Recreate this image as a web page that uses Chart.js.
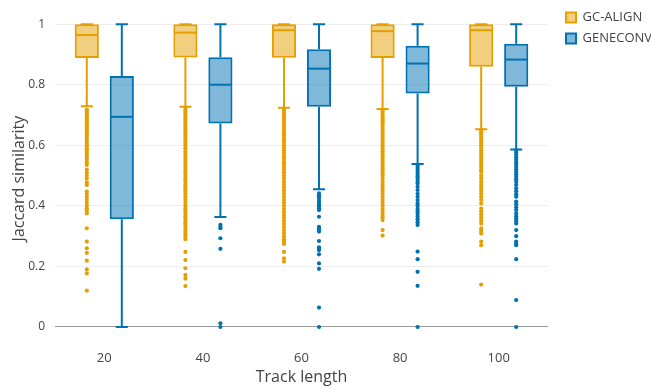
<!DOCTYPE html>
<html>
<head>
<meta charset="utf-8">
<script src="https://cdn.jsdelivr.net/npm/chart.js@4.4.1/dist/chart.umd.min.js"></script>
<style>
  html, body { margin: 0; padding: 0; background: #fff; }
  #wrap { width: 651px; height: 387px; }
</style>
</head>
<body>
<div id="wrap"><canvas id="boxCanvas" width="651" height="387"></canvas></div>
<script>
// Données
const categories = ["20", "40", "60", "80", "100"];
const yTicks = [0, 0.2, 0.4, 0.6, 0.8, 1];

// GC-ALIGN
const gcQ1 = [0.888, 0.89, 0.889, 0.888, 0.859];
const gcMed = [0.964, 0.972, 0.98, 0.977, 0.98];
const gcQ3 = [1, 1, 1, 1, 1];
const gcLo = [0.729, 0.727, 0.724, 0.72, 0.653];
const gcHi = [1, 1, 1, 1, 1];
const gcOut = [
  [0.718, 0.712, 0.706, 0.7, 0.694, 0.688, 0.682, 0.676, 0.668, 0.662, 0.655, 0.648, 0.642, 0.636, 0.628, 0.62, 0.612, 0.604, 0.598, 0.59, 0.584, 0.576, 0.568, 0.56, 0.552, 0.544, 0.535, 0.52, 0.51, 0.5, 0.49, 0.478, 0.469, 0.447, 0.44, 0.43, 0.42, 0.41, 0.4, 0.392, 0.384, 0.375, 0.326, 0.282, 0.26, 0.245, 0.219, 0.19, 0.177, 0.12],
  [0.72, 0.714, 0.708, 0.7, 0.692, 0.685, 0.678, 0.67, 0.662, 0.655, 0.648, 0.64, 0.632, 0.625, 0.618, 0.61, 0.6, 0.59, 0.58, 0.572, 0.565, 0.556, 0.548, 0.54, 0.53, 0.52, 0.512, 0.505, 0.496, 0.488, 0.48, 0.47, 0.462, 0.455, 0.447, 0.44, 0.43, 0.42, 0.41, 0.4, 0.392, 0.384, 0.375, 0.366, 0.358, 0.35, 0.342, 0.334, 0.325, 0.316, 0.308, 0.3, 0.29, 0.248, 0.221, 0.194, 0.172, 0.16, 0.135],
  [0.72, 0.713, 0.706, 0.699, 0.692, 0.685, 0.678, 0.67, 0.662, 0.655, 0.647, 0.64, 0.632, 0.624, 0.616, 0.608, 0.6, 0.592, 0.584, 0.576, 0.568, 0.56, 0.552, 0.544, 0.536, 0.528, 0.52, 0.51, 0.5, 0.49, 0.48, 0.47, 0.46, 0.45, 0.44, 0.43, 0.42, 0.41, 0.4, 0.39, 0.38, 0.37, 0.36, 0.35, 0.34, 0.33, 0.32, 0.31, 0.3, 0.29, 0.282, 0.274, 0.248, 0.227, 0.216],
  [0.716, 0.71, 0.703, 0.696, 0.689, 0.682, 0.675, 0.668, 0.66, 0.652, 0.644, 0.636, 0.628, 0.62, 0.612, 0.604, 0.596, 0.588, 0.58, 0.572, 0.564, 0.556, 0.548, 0.54, 0.532, 0.524, 0.516, 0.508, 0.5, 0.49, 0.48, 0.47, 0.46, 0.45, 0.44, 0.43, 0.42, 0.41, 0.4, 0.39, 0.38, 0.37, 0.362, 0.353, 0.32, 0.302],
  [0.65, 0.643, 0.636, 0.629, 0.622, 0.615, 0.608, 0.6, 0.592, 0.584, 0.576, 0.568, 0.56, 0.552, 0.544, 0.536, 0.528, 0.52, 0.512, 0.5, 0.49, 0.48, 0.47, 0.46, 0.45, 0.44, 0.43, 0.42, 0.408, 0.391, 0.382, 0.372, 0.362, 0.352, 0.342, 0.326, 0.318, 0.309, 0.282, 0.27, 0.14]
];

// GENECONV
const geQ1 = [0.356, 0.672, 0.727, 0.771, 0.793];
const geMed = [0.694, 0.8, 0.853, 0.87, 0.883];
const geQ3 = [0.829, 0.891, 0.917, 0.929, 0.935];
const geLo = [0, 0.363, 0.455, 0.538, 0.586];
const geHi = [1, 1, 1, 1, 1];
const geOut = [
  [],
  [0.337, 0.33, 0.326, 0.293, 0.258, 0.012, 0],
  [0.441, 0.435, 0.428, 0.42, 0.413, 0.405, 0.398, 0.392, 0.386, 0.364, 0.331, 0.325, 0.32, 0.315, 0.284, 0.263, 0.258, 0.254, 0.24, 0.21, 0.192, 0.064, 0],
  [0.535, 0.528, 0.52, 0.512, 0.505, 0.498, 0.49, 0.482, 0.474, 0.463, 0.452, 0.44, 0.43, 0.419, 0.408, 0.4, 0.39, 0.382, 0.374, 0.365, 0.356, 0.346, 0.337, 0.249, 0.224, 0.182, 0.136, 0],
  [0.584, 0.576, 0.568, 0.56, 0.552, 0.544, 0.536, 0.528, 0.52, 0.512, 0.504, 0.496, 0.488, 0.48, 0.469, 0.458, 0.448, 0.438, 0.43, 0.414, 0.405, 0.395, 0.386, 0.375, 0.366, 0.358, 0.35, 0.342, 0.32, 0.3, 0.282, 0.275, 0.27, 0.224, 0.089, 0]
];

const series = [
  { label: "GC-ALIGN", line: "rgb(230,159,0)", fill: "rgba(230,159,0,0.5)",
    q1: gcQ1, med: gcMed, q3: gcQ3, lo: gcLo, hi: gcHi, out: gcOut },
  { label: "GENECONV", line: "rgb(0,114,178)", fill: "rgba(0,114,178,0.5)",
    q1: geQ1, med: geMed, q3: geQ3, lo: geLo, hi: geHi, out: geOut },
];

// moustaches, médianes et points isolés
const boxParts = {
  id: "boxParts",
  afterLayout(chart) {
    // décaler la légende vers la droite, comme sur l'original
    chart.legend.left += 10;
    chart.legend.right += 10;
  },
  beforeDatasetsDraw(chart) {
    const { ctx } = chart;
    const y = chart.scales.y;
    series.forEach((s, i) => {
      chart.getDatasetMeta(i).data.forEach((bar, j) => {
        const x = bar.x;
        const half = bar.width / 4;
        ctx.save();
        ctx.strokeStyle = s.line;
        ctx.lineWidth = 2;
        ctx.beginPath();
        ctx.moveTo(x, y.getPixelForValue(s.q3[j]));
        ctx.lineTo(x, y.getPixelForValue(s.hi[j]));
        ctx.moveTo(x, y.getPixelForValue(s.q1[j]));
        ctx.lineTo(x, y.getPixelForValue(s.lo[j]));
        ctx.moveTo(x - half, y.getPixelForValue(s.hi[j]));
        ctx.lineTo(x + half, y.getPixelForValue(s.hi[j]));
        ctx.moveTo(x - half, y.getPixelForValue(s.lo[j]));
        ctx.lineTo(x + half, y.getPixelForValue(s.lo[j]));
        ctx.stroke();
        ctx.restore();
      });
    });
  },
  afterDatasetsDraw(chart) {
    const { ctx } = chart;
    const y = chart.scales.y;
    series.forEach((s, i) => {
      chart.getDatasetMeta(i).data.forEach((bar, j) => {
        const x = bar.x;
        const w = bar.width;
        ctx.save();
        ctx.strokeStyle = s.line;
        ctx.lineWidth = 2;
        ctx.beginPath();
        ctx.moveTo(x - w / 2 + 1, y.getPixelForValue(s.med[j]));
        ctx.lineTo(x + w / 2 - 1, y.getPixelForValue(s.med[j]));
        ctx.stroke();
        ctx.fillStyle = s.line;
        s.out[j].forEach((v) => {
          ctx.beginPath();
          ctx.arc(x, y.getPixelForValue(v), 2.1, 0, Math.PI * 2);
          ctx.fill();
        });
        ctx.restore();
      });
    });
  },
};

const boxChart = new Chart(document.getElementById("boxCanvas"), {
  type: "bar",
  data: {
    labels: categories,
    datasets: series.map((s) => ({
      label: s.label,
      data: s.q1.map((q, j) => [q, s.q3[j]]),
      backgroundColor: s.fill,
      borderColor: s.line,
      borderWidth: 2,
      borderSkipped: false,
      categoryPercentage: 0.71,
      barPercentage: 0.69,
    })),
  },
  options: {
    responsive: false,
    animation: false,
    layout: { padding: { top: 3, left: 0, right: 0, bottom: 0 } },
    plugins: {
      tooltip: { enabled: false },
      legend: {
        position: "right",
        align: "start",
        maxWidth: 103,
        labels: {
          boxWidth: 10,
          boxHeight: 10,
          padding: 8,
          color: "#444",
          font: { family: "'Open Sans'", size: 13 },
        },
      },
    },
    scales: {
      x: {
        grid: { display: false },
        border: { display: false },
        ticks: { color: "#444", font: { family: "'Open Sans'", size: 13 }, padding: 2 },
        title: {
          display: true,
          text: "Track length",
          color: "#444",
          font: { family: "'Open Sans'", size: 16 },
          padding: 0,
        },
        afterFit: (scale) => { scale.height = 47; },
      },
      y: {
        min: -0.043,
        max: 1.023,
        afterBuildTicks: (scale) => { scale.ticks = yTicks.map((v) => ({ value: v })); },
        grid: {
          drawTicks: false,
          color: (c) => (c.tick && c.tick.value === 0 ? "#999" : "#eee"),
          lineWidth: 1,
        },
        border: { display: false },
        ticks: {
          color: "#444",
          padding: 10,
          font: { family: "'Open Sans'", size: 12 },
          callback: (v) => String(v),
        },
        title: {
          display: true,
          text: "Jaccard similarity",
          color: "#444",
          font: { family: "'Open Sans'", size: 16 },
          padding: { top: 10, bottom: 0 },
        },
        afterFit: (scale) => { scale.width = 55; },
      },
    },
  },
  plugins: [boxParts],
});
</script>
</body>
</html>
